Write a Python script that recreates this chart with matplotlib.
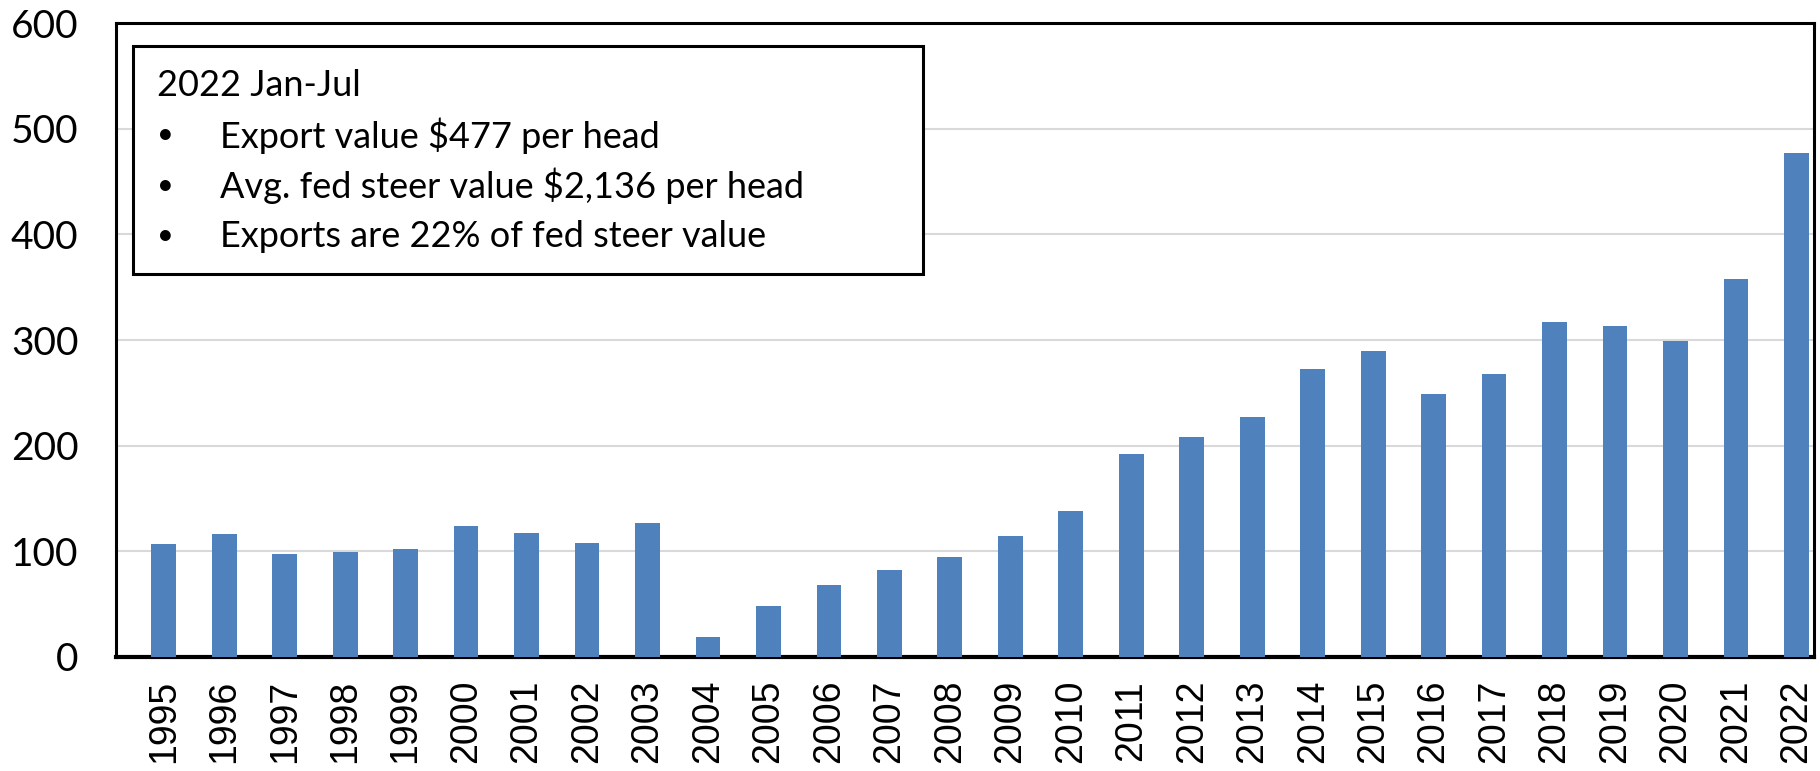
import matplotlib.pyplot as plt
from matplotlib.patches import Rectangle
import numpy as np

years = [str(y) for y in range(1995, 2023)]
values = [107, 116, 97, 99, 102, 124, 117, 108, 127, 19, 48, 68, 82, 95,
          114, 138, 192, 208, 227, 273, 290, 249, 268, 317, 313, 299, 358, 477]
yticks = [0, 100, 200, 300, 400, 500, 600]
box_title = "2022 Jan-Jul"
box_lines = ["Export value $477 per head",
             "Avg. fed steer value $2,136 per head",
             "Exports are 22% of fed steer value"]

fig = plt.figure(figsize=(18.2, 7.71), dpi=100)
ax = fig.add_axes([0.0637, 0.148, 0.933, 0.822])

x = np.arange(len(years))
ax.bar(x, values, width=0.41, color='#4F81BD', zorder=3)

ax.set_xlim(-0.79, len(years) - 0.71)
ax.set_ylim(0, 600)
ax.set_yticks(yticks)
ax.set_yticklabels([str(t) for t in yticks], fontsize=28, family='Lato')
ax.set_xticks(x)
ax.set_xticklabels(years, rotation=90, fontsize=27, family='Liberation Sans')
ax.tick_params(axis='y', length=0, pad=27)
ax.tick_params(axis='x', length=0, pad=16.5)
ax.yaxis.grid(True, color='#d9d9d9', linewidth=1.5, zorder=0)
ax.set_axisbelow(True)
for s in ax.spines.values():
    s.set_linewidth(2.2)
    s.set_color('black')
ax.spines['bottom'].set_linewidth(3)

# note box
ax.add_patch(Rectangle((0.0100, 0.604), 0.465, 0.36, transform=ax.transAxes,
                       facecolor='white', edgecolor='black', linewidth=2.2, zorder=5))
ax.text(0.0242, 0.902, box_title, transform=ax.transAxes, fontsize=26,
        family='Lato', va='center', ha='left', zorder=6)
for i, line in enumerate(box_lines):
    yy = 0.823 - i * 0.0795
    ax.text(0.0242, yy, '\u2022', transform=ax.transAxes, fontsize=21,
            family='Lato', va='center', ha='left', zorder=6)
    ax.text(0.061, yy, line, transform=ax.transAxes, fontsize=26,
            family='Lato', va='center', ha='left', zorder=6)

fig.savefig('out.png', dpi=100)
